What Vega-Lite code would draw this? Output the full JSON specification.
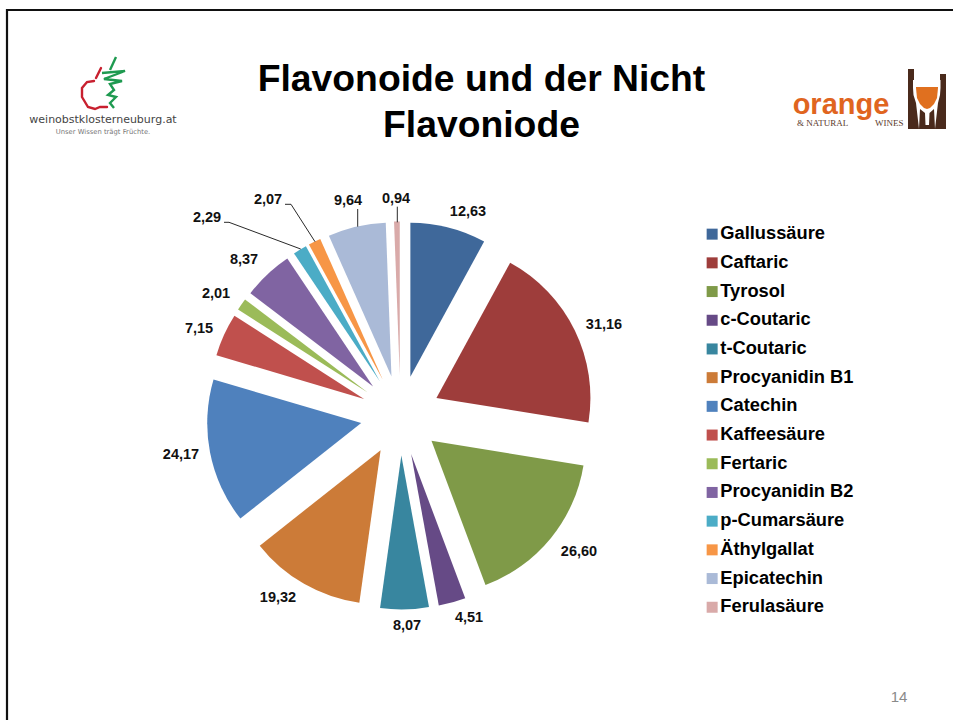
{"$schema":"https://vega.github.io/schema/vega-lite/v6.json","width":953,"height":720,"padding":0,"autosize":{"type":"none"},"background":"white","config":{"view":{"stroke":null},"font":"Liberation Sans"},
"encoding":{"x":{"type":"quantitative","scale":{"domain":[0,953],"range":[0,953],"nice":false,"zero":false},"axis":null},"y":{"type":"quantitative","scale":{"domain":[0,720],"range":[0,720],"nice":false,"zero":false},"axis":null}},
"layer":[
{"data":{"values":[{"i":1,"x":7,"y":720},{"i":2,"x":7,"y":10},{"i":3,"x":953,"y":10}]},"mark":{"type":"line","stroke":"#111111","strokeWidth":2.2,"clip":false},"encoding":{"x":{"field":"x"},"y":{"field":"y"},"order":{"field":"i"}}},
{"data":{"values":[{"name":"Gallussäure","value":12.63},{"name":"Caftaric","value":31.16},{"name":"Tyrosol","value":26.60},{"name":"c-Coutaric","value":4.51},{"name":"t-Coutaric","value":8.07},{"name":"Procyanidin B1","value":19.32},{"name":"Catechin","value":24.17},{"name":"Kaffeesäure","value":7.15},{"name":"Fertaric","value":2.01},{"name":"Procyanidin B2","value":8.37},{"name":"p-Cumarsäure","value":2.29},{"name":"Äthylgallat","value":2.07},{"name":"Epicatechin","value":9.64},{"name":"Ferulasäure","value":0.94}]},
"transform":[{"stack":"value","groupby":[],"as":["s0","s1"]},{"calculate":"(datum.s0+datum.s1)/2/158.93*2*PI","as":"mid"},{"calculate":"400.5+40*sin(datum.mid)","as":"cx"},{"calculate":"415.5-40*cos(datum.mid)","as":"cy"}],
"mark":{"type":"arc","outerRadius":154},
"encoding":{"x":{"field":"cx"},"y":{"field":"cy"},
"theta":{"field":"s0","type":"quantitative","stack":null,"scale":{"domain":[0,158.93],"range":[0,6.283185]}},"theta2":{"field":"s1"},
"color":{"field":"name","type":"nominal","sort":null,"scale":{"domain":["Gallussäure","Caftaric","Tyrosol","c-Coutaric","t-Coutaric","Procyanidin B1","Catechin","Kaffeesäure","Fertaric","Procyanidin B2","p-Cumarsäure","Äthylgallat","Epicatechin","Ferulasäure"],"range":["#3F689A","#9E3D3B","#7F9A48","#664A86","#38869F","#CC7B38","#4F81BD","#C0504D","#9BBB59","#8064A2","#4BACC6","#F79646","#AABAD7","#D9AAA9"]},
"legend":{"title":null,"orient":"none","legendX":703,"legendY":225,"symbolType":"square","symbolSize":121,"symbolStrokeWidth":0,"symbolOpacity":1,"labelFont":"Liberation Sans","labelFontWeight":"bold","labelFontSize":18.3,"labelColor":"#000000","labelOffset":-1,"labelLimit":300,"rowPadding":9.7,"padding":0}}}},
{"data":{"values":[{"g":"a","i":1,"x":285,"y":204.3},{"g":"a","i":2,"x":291,"y":204.3},{"g":"a","i":3,"x":315,"y":241.7},{"g":"b","i":1,"x":224,"y":222.3},{"g":"b","i":2,"x":229,"y":222.3},{"g":"b","i":3,"x":300.7,"y":249},{"g":"c","i":1,"x":357.7,"y":209},{"g":"c","i":2,"x":357.7,"y":226.7},{"g":"d","i":1,"x":397.3,"y":206.7},{"g":"d","i":2,"x":397.3,"y":222.3}]},"mark":{"type":"line","stroke":"#111111","strokeWidth":0.9},"encoding":{"x":{"field":"x"},"y":{"field":"y"},"detail":{"field":"g"},"order":{"field":"i"}}},
{"data":{"values":[{"t":"12,63","x":468,"y":212},{"t":"31,16","x":604,"y":325},{"t":"26,60","x":579,"y":552},{"t":"4,51","x":469,"y":618},{"t":"8,07","x":407,"y":626},{"t":"19,32","x":278,"y":598},{"t":"24,17","x":181,"y":455},{"t":"7,15","x":199,"y":329},{"t":"2,01","x":216,"y":294},{"t":"8,37","x":244,"y":260},{"t":"2,29","x":207,"y":218},{"t":"2,07","x":268,"y":200},{"t":"9,64","x":348,"y":201},{"t":"0,94","x":396,"y":199}]},"mark":{"type":"text","font":"Liberation Sans","fontWeight":"bold","fontSize":14.5,"color":"#111111","align":"center","baseline":"middle"},"encoding":{"x":{"field":"x"},"y":{"field":"y"},"text":{"field":"t"}}},
{"data":{"values":[{"t":"Flavonoide und der Nicht","x":481.5,"y":91},{"t":"Flavoniode","x":481.5,"y":137}]},"mark":{"type":"text","font":"Liberation Sans","fontWeight":"bold","fontSize":37.3,"color":"#000000","align":"center","baseline":"alphabetic"},"encoding":{"x":{"field":"x"},"y":{"field":"y"},"text":{"field":"t"}}},
{"data":{"values":[{"t":"14","x":899,"y":697}]},"mark":{"type":"text","font":"Liberation Sans","fontSize":15,"color":"#8a8a8a","align":"center","baseline":"middle"},"encoding":{"x":{"field":"x"},"y":{"field":"y"},"text":{"field":"t"}}},
{"data":{"values":[{"t":"weinobstklosterneuburg.at","x":103,"y":120}]},"mark":{"type":"text","font":"DejaVu Sans","fontSize":11,"color":"#444444","align":"center","baseline":"middle"},"encoding":{"x":{"field":"x"},"y":{"field":"y"},"text":{"field":"t"}}},
{"data":{"values":[{"t":"Unser Wissen trägt Früchte.","x":103,"y":132}]},"mark":{"type":"text","font":"DejaVu Sans","fontSize":6.8,"color":"#777777","align":"center","baseline":"middle"},"encoding":{"x":{"field":"x"},"y":{"field":"y"},"text":{"field":"t"}}},
{"data":{"values":[{"g":"a","i":1,"x":101,"y":68},{"g":"a","i":2,"x":96,"y":78},{"g":"b","i":1,"x":94,"y":81},{"g":"b","i":2,"x":87,"y":82},{"g":"b","i":3,"x":82,"y":88},{"g":"b","i":4,"x":82,"y":97},{"g":"b","i":5,"x":88,"y":107},{"g":"b","i":6,"x":95,"y":109},{"g":"b","i":7,"x":100,"y":107},{"g":"b","i":8,"x":107,"y":107}]},"mark":{"type":"line","stroke":"#C8202F","strokeWidth":2.4,"strokeCap":"round"},"encoding":{"x":{"field":"x"},"y":{"field":"y"},"detail":{"field":"g"},"order":{"field":"i"}}},
{"data":{"values":[{"g":"a","i":1,"x":116,"y":57},{"g":"a","i":2,"x":110,"y":70},{"g":"b","i":1,"x":102,"y":73},{"g":"b","i":2,"x":125,"y":71},{"g":"b","i":3,"x":104,"y":79},{"g":"b","i":4,"x":122,"y":81},{"g":"b","i":5,"x":110,"y":84},{"g":"b","i":6,"x":114,"y":90},{"g":"b","i":7,"x":108,"y":95},{"g":"b","i":8,"x":116,"y":97},{"g":"b","i":9,"x":110,"y":103},{"g":"b","i":10,"x":114,"y":108}]},"mark":{"type":"line","stroke":"#1E9A50","strokeWidth":2.4},"encoding":{"x":{"field":"x"},"y":{"field":"y"},"detail":{"field":"g"},"order":{"field":"i"}}},
{"data":{"values":[{"t":"orange","x":841,"y":114}]},"mark":{"type":"text","font":"Liberation Sans","fontWeight":"bold","fontSize":29,"color":"#E0651F","align":"center","baseline":"alphabetic"},"encoding":{"x":{"field":"x"},"y":{"field":"y"},"text":{"field":"t"}}},
{"data":{"values":[{"t":"& NATURAL","x":797,"y":126},{"t":"WINES","x":875,"y":126}]},"mark":{"type":"text","font":"Liberation Serif","fontSize":9,"color":"#5a3a2c","align":"left","baseline":"alphabetic"},"encoding":{"x":{"field":"x"},"y":{"field":"y"},"text":{"field":"t"}}},
{"data":{"values":[{"x":908,"x2":914,"y":69,"y2":129},{"x":940,"x2":946,"y":74,"y2":129},{"x":908,"x2":946,"y":95,"y2":129}]},"mark":{"type":"rect","color":"#4A2A1C"},"encoding":{"x":{"field":"x"},"x2":{"field":"x2"},"y":{"field":"y"},"y2":{"field":"y2"}}},
{"data":{"values":[{"x":913,"y":80,"y2":88},{"x":913.5,"y":80,"y2":95},{"x":916,"y":80,"y2":103},{"x":920,"y":80,"y2":109},{"x":925,"y":80,"y2":113},{"x":925.5,"y":80,"y2":125},{"x":919,"y":80,"y2":129},{"x":935,"y":80,"y2":129},{"x":929,"y":80,"y2":125},{"x":929.5,"y":80,"y2":113},{"x":934,"y":80,"y2":109},{"x":938,"y":80,"y2":103},{"x":940,"y":80,"y2":95},{"x":940.5,"y":80,"y2":88}]},"mark":{"type":"area","color":"#ffffff","opacity":1,"orient":"vertical"},"encoding":{"x":{"field":"x"},"y":{"field":"y"},"y2":{"field":"y2"}}},
{"data":{"values":[{"x":916,"y":87,"y2":88},{"x":917,"y":87,"y2":98},{"x":920,"y":87,"y2":104},{"x":924,"y":87,"y2":108},{"x":927,"y":87,"y2":109},{"x":930,"y":87,"y2":108},{"x":934,"y":87,"y2":104},{"x":937,"y":87,"y2":98},{"x":938,"y":87,"y2":88}]},"mark":{"type":"area","color":"#E0701F","opacity":1,"orient":"vertical"},"encoding":{"x":{"field":"x"},"y":{"field":"y"},"y2":{"field":"y2"}}}
]}
